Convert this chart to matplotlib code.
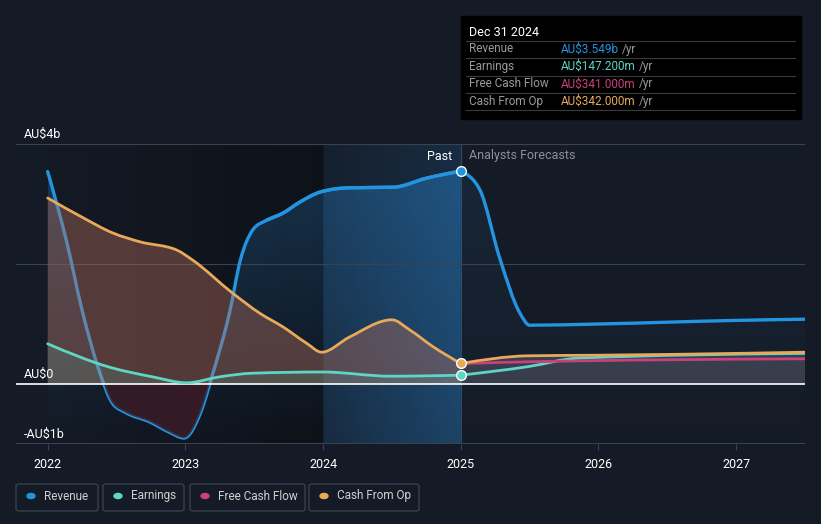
import numpy as np
import matplotlib.pyplot as plt
from matplotlib.patches import FancyBboxPatch, Rectangle, PathPatch
from matplotlib.path import Path
from matplotlib.colors import to_rgb

plt.rcParams['font.family'] = ['Roboto', 'DejaVu Sans']

# data (AU$ billions, x in fractional years)
rev_x = [2022.0, 2022.14, 2022.25, 2022.38, 2022.47, 2022.57, 2022.74, 2022.88, 2022.99,
         2023.11, 2023.2, 2023.32, 2023.4, 2023.49, 2023.59, 2023.71, 2023.83, 2023.98,
         2024.19, 2024.51, 2024.75, 2025.0]
rev_y = [3.54, 2.35, 1.23, 0.18, -0.32, -0.48, -0.63, -0.8, -0.9,
         -0.48, 0.18, 1.18, 2.07, 2.57, 2.73, 2.85, 3.03, 3.2,
         3.27, 3.28, 3.43, 3.549]
rev_fx = [2025.0, 2025.14, 2025.28, 2025.43, 2025.5, 2026.0, 2027.0, 2027.5]
rev_fy = [3.549, 3.23, 2.12, 1.18, 0.98, 1.0, 1.06, 1.08]

earn_x = [2022.0, 2022.45, 2022.76, 2023.01, 2023.25, 2023.49, 2024.0, 2024.49, 2025.0]
earn_y = [0.67, 0.28, 0.12, 0.02, 0.12, 0.18, 0.2, 0.13, 0.147]
earn_fx = [2025.0, 2025.49, 2025.85, 2027.5]
earn_fy = [0.147, 0.29, 0.43, 0.51]

fcf_fx = [2025.0, 2025.49, 2027.5]
fcf_fy = [0.341, 0.37, 0.42]

cfo_x = [2022.0, 2022.25, 2022.47, 2022.67, 2022.94, 2023.05, 2023.34, 2023.54, 2023.71,
         2023.88, 2023.99, 2024.19, 2024.5, 2024.63, 2024.8, 2025.0]
cfo_y = [3.1, 2.78, 2.52, 2.37, 2.23, 2.07, 1.52, 1.18, 0.95,
         0.68, 0.53, 0.78, 1.07, 0.9, 0.62, 0.342]
cfo_fx = [2025.0, 2025.49, 2026.0, 2027.0, 2027.5]
cfo_fy = [0.342, 0.47, 0.48, 0.51, 0.53]

years = [2022, 2023, 2024, 2025, 2026, 2027]

c_rev = '#2394df'
c_earn = '#5fd6c4'
c_fcf = '#c9407a'
c_cfo = '#e8a95a'
bg = '#151b26'

W, H = 821, 524
fig = plt.figure(figsize=(W / 100, H / 100), dpi=100, facecolor=bg)
ax = fig.add_axes([16 / W, 1 - 444 / H, (805 - 16) / W, 300 / H])
ax.set_facecolor(bg)
ax.set_xlim(2021.77, 2027.5)
ax.set_ylim(-1, 4)


def curve(xs, ys, base=None):
    # monotone cubic bezier path through the points (like d3 curveMonotoneX)
    x = np.asarray(xs, float)
    y = np.asarray(ys, float)
    h = np.diff(x)
    d = np.diff(y) / h
    n = len(x)
    m = np.zeros(n)
    for i in range(1, n - 1):
        s = (d[i - 1] * h[i] + d[i] * h[i - 1]) / (h[i - 1] + h[i])
        m[i] = (np.sign(d[i - 1]) + np.sign(d[i])) * min(abs(d[i - 1]), abs(d[i]), 0.5 * abs(s))
    m[0] = (3 * d[0] - m[1]) / 2 if n > 2 else d[0]
    m[-1] = (3 * d[-1] - m[-2]) / 2 if n > 2 else d[-1]
    verts = [(x[0], y[0])]
    codes = [Path.MOVETO]
    for i in range(n - 1):
        verts += [(x[i] + h[i] / 3, y[i] + m[i] * h[i] / 3),
                  (x[i + 1] - h[i] / 3, y[i + 1] - m[i + 1] * h[i] / 3),
                  (x[i + 1], y[i + 1])]
        codes += [Path.CURVE4] * 3
    if base is not None:
        verts += [(x[-1], base), (x[0], base), (x[0], y[0])]
        codes += [Path.LINETO, Path.LINETO, Path.CLOSEPOLY]
    return Path(verts, codes)


def line(xs, ys, color, lw, z):
    ax.add_patch(PathPatch(curve(xs, ys), fc='none', ec=color, lw=lw, zorder=z,
                           capstyle='round', joinstyle='round'))


def area(xs, ys, base, color, alpha, z):
    p = PathPatch(curve(xs, ys, base), fc=color, ec='none', alpha=alpha, zorder=z)
    ax.add_patch(p)
    return p


def hgrad(xa, xb, color, a0, a1, clip=None, z=0, ya=-1, yb=4):
    img = np.zeros((1, 256, 4))
    img[..., :3] = to_rgb(color)
    img[..., 3] = np.linspace(a0, a1, 256)
    im = ax.imshow(img, extent=[xa, xb, ya, yb], aspect='auto', zorder=z, interpolation='bilinear')
    if clip is not None:
        im.set_clip_path(clip)
    return im


def vgrad(xa, xb, ya, yb, color, a_bottom, a_top, clip=None, z=0):
    img = np.zeros((256, 1, 4))
    img[..., :3] = to_rgb(color)
    img[:, 0, 3] = np.linspace(a_top, a_bottom, 256)
    im = ax.imshow(img, extent=[xa, xb, ya, yb], aspect='auto', zorder=z, interpolation='bilinear')
    if clip is not None:
        im.set_clip_path(clip)
    return im


# past region darker, highlighted last year band
hgrad(2022.0, 2024.0, '#000000', 0.05, 0.35, z=0)
hgrad(2024.0, 2025.0, '#1d5a8c', 0.08, 0.28, z=0)
ax.axvline(2025.0, color='#2a4a66', lw=0.8, zorder=1)

# revenue fill: vertical fade everywhere, stronger inside the highlighted year
rev_clip = PathPatch(curve(rev_x, rev_y, -1), fc='none', ec='none', transform=ax.transData)
ax.add_patch(rev_clip)
vgrad(2022.0, 2025.0, -1, 3.6, '#2a7cc0', 0.0, 0.3, clip=rev_clip, z=1)
hgrad(2024.0, 2025.0, '#2a7cc0', 0.12, 0.3, clip=rev_clip, z=1)
rev_fclip = PathPatch(curve(rev_fx, rev_fy, -1), fc='none', ec='none', transform=ax.transData)
ax.add_patch(rev_fclip)
vgrad(2025.0, 2027.5, -1, 3.6, '#2a7cc0', 0.0, 0.12, clip=rev_fclip, z=1)

# revenue line sits under the cash-flow fills in the past
line(rev_x, rev_y, c_rev, 2.4, 2)

# negative revenue region
neg = area(rev_x, rev_y, 0, '#3a1c27', 0.85, 2.5)
neg.set_clip_path(Rectangle((2021.77, -1), 6, 1, transform=ax.transData))

area(cfo_x, cfo_y, 0, '#b8705f', 0.4, 3)
area(earn_x, earn_y, 0, c_earn, 0.15, 3)
area(cfo_fx, cfo_fy, 0, '#8a8a9c', 0.3, 3)

# grid
for g in [2, 4]:
    ax.axhline(g, xmin=0, color='#3a4150', lw=0.8, zorder=1)
ax.axhline(0, color='white', lw=1.2, zorder=4)
ax.axhline(-1, color='#3a4150', lw=1.5, zorder=4)

line(rev_fx, rev_fy, c_rev, 2.4, 5)
line(earn_x, earn_y, c_earn, 2.0, 5)
line(earn_fx, earn_fy, c_earn, 2.0, 5)
line(fcf_fx, fcf_fy, c_fcf, 2.0, 5)
line(cfo_x, cfo_y, c_cfo, 2.0, 5)
line(cfo_fx, cfo_fy, c_cfo, 2.0, 5)
# part of revenue above the cash fills
line(rev_x[-8:], rev_y[-8:], c_rev, 2.4, 5)

for yv, c in [(rev_y[-1], c_rev), (cfo_y[-1], c_cfo), (earn_y[-1], c_earn)]:
    ax.plot([2025.0], [yv], 'o', ms=7, mfc=c, mec='white', mew=1.0, zorder=6)

# axes cosmetics
for s in ax.spines.values():
    s.set_visible(False)
ax.set_yticks([])
ax.set_xticks(years)
ax.set_xticklabels([str(y) for y in years], color='white', fontsize=9)
ax.tick_params(axis='x', length=4, color='#3a4150', pad=6)

ax.text(2021.83, 4.05, 'AU$4b', color='white', fontsize=9, va='bottom')
ax.text(2021.83, 0.05, 'AU$0', color='white', fontsize=9, va='bottom')
ax.text(2021.83, -0.95, '-AU$1b', color='white', fontsize=9, va='bottom')
ax.text(2024.94, 3.8, 'Past', color='white', fontsize=9, ha='right', va='center')
ax.text(2025.06, 3.8, 'Analysts Forecasts', color='#8a8f99', fontsize=9, ha='left', va='center')


def fx(px):
    return px / W


def fy(py):
    return 1 - py / H


# tooltip
fig.patches.append(Rectangle((fx(461), fy(119)), fx(801) - fx(461), fy(16) - fy(119),
                             transform=fig.transFigure, color='black', zorder=10))
fig.text(fx(469), fy(32), 'Dec 31 2024', color='white', fontsize=9, va='center', zorder=11)
rows = [('Revenue', 'AU$3.549b', c_rev), ('Earnings', 'AU$147.200m', c_earn),
        ('Free Cash Flow', 'AU$341.000m', c_fcf), ('Cash From Op', 'AU$342.000m', c_cfo)]
for i, (lab, val, c) in enumerate(rows):
    yy = 49 + i * 17.5
    fig.lines.append(plt.Line2D([fx(466), fx(795)], [fy(yy - 8.5), fy(yy - 8.5)],
                                transform=fig.transFigure, color='#3a3a3a', lw=0.8, zorder=11))
    fig.text(fx(469), fy(yy), lab, color='#9a9a9a', fontsize=8.5, va='center', zorder=11)
    t = fig.text(fx(561), fy(yy), val, color=c, fontsize=8.5, va='center', zorder=11)
    fig.canvas.draw()
    bb = t.get_window_extent()
    fig.text(bb.x1 / W + 3 / W, fy(yy), '/yr', color='#9a9a9a', fontsize=8.5, va='center', zorder=11)
fig.lines.append(plt.Line2D([fx(466), fx(795)], [fy(110), fy(110)],
                            transform=fig.transFigure, color='#3a3a3a', lw=0.8, zorder=11))

# legend
items = [('Revenue', c_rev, 16, 98), ('Earnings', c_earn, 103, 184),
         ('Free Cash Flow', c_fcf, 190, 305), ('Cash From Op', c_cfo, 309, 419)]
for lab, c, xa, xb in items:
    fig.patches.append(FancyBboxPatch((fx(xa), fy(511)), fx(xb) - fx(xa), fy(484) - fy(511),
                                      boxstyle='round,pad=0,rounding_size=0.004',
                                      transform=fig.transFigure, fc='none', ec='#3a3f4a', lw=1))
    fig.patches.append(plt.Circle((fx(xa + 15), fy(496)), 4 / W, transform=fig.transFigure,
                                  color=c))
    fig.text(fx(xa + 28), fy(496), lab, color='#d0d0d0', fontsize=8.5, va='center')

fig.savefig('out.png', dpi=100, facecolor=bg)
